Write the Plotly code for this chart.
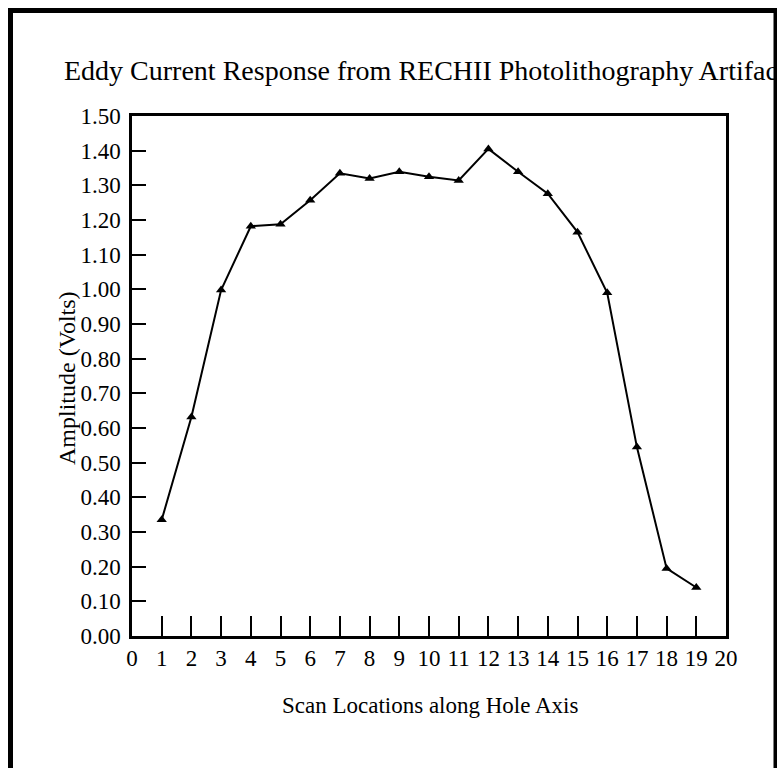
import plotly.graph_objects as go

# Data
scan_locations = list(range(1, 20))
amplitude_volts = [0.335, 0.632, 0.998, 1.182, 1.188, 1.257, 1.335, 1.320, 1.339,
                   1.325, 1.314, 1.405, 1.339, 1.276, 1.165, 0.990, 0.545, 0.195, 0.140]
x_tick_values = list(range(0, 21))
y_tick_values = [round(i * 0.1, 2) for i in range(0, 16)]

title_text = "Eddy Current Response from RECHII Photolithography Artifact"
x_title = "Scan Locations along Hole Axis"
y_title = "Amplitude (Volts)"

FONT = "Liberation Serif, Times New Roman, Times, serif"

W, H = 777, 768
L, R, T, B = 132, 51, 116, 132
PW, PH = W - L - R, H - T - B


def px(x):
    return (x - L) / PW


def py(y):
    return (H - B - y) / PH


fig = go.Figure()
fig.add_trace(go.Scatter(
    x=scan_locations, y=amplitude_volts, mode="lines+markers",
    line=dict(color="black", width=2),
    marker=dict(symbol="triangle-up", size=9, color="black"),
    showlegend=False, cliponaxis=False,
))

fig.update_layout(
    width=W, height=H,
    margin=dict(l=L, r=R, t=T, b=B, pad=0),
    paper_bgcolor="white", plot_bgcolor="white",
    font=dict(family=FONT, color="black"),
    xaxis=dict(range=[0, 20], tickvals=x_tick_values, ticks="inside", ticklen=20,
               tickwidth=2, tickcolor="black", showline=True, linewidth=2.5,
               linecolor="black", mirror=True, showgrid=False, zeroline=False,
               tickfont=dict(size=23, family=FONT, color="black")),
    yaxis=dict(range=[0, 1.5], tickvals=y_tick_values, tickformat=".2f",
               ticks="inside", ticklen=14, tickwidth=2, tickcolor="black",
               showline=True, linewidth=2.5, linecolor="black", mirror=True,
               showgrid=False, zeroline=False, ticklabelstandoff=4,
               tickfont=dict(size=23, family=FONT, color="black")),
    shapes=[dict(type="rect", xref="paper", yref="paper",
                 x0=px(10.5), x1=px(776), y0=py(790), y1=py(10.5),
                 line=dict(color="black", width=5), fillcolor="rgba(0,0,0,0)",
                 layer="above")],
    annotations=[
        dict(text=title_text, xref="paper", yref="paper", x=px(62), y=py(70),
             xanchor="left", yanchor="middle", showarrow=False,
             font=dict(size=28, family=FONT, color="black")),
        dict(text=x_title, xref="paper", yref="paper", x=px(430), y=py(705),
             xanchor="center", yanchor="middle", showarrow=False,
             font=dict(size=23, family=FONT, color="black")),
        dict(text=y_title, xref="paper", yref="paper", x=px(67), y=py(378),
             xanchor="center", yanchor="middle", showarrow=False, textangle=-90,
             font=dict(size=24, family=FONT, color="black")),
    ],
)

fig.write_html("out.html", config={"displayModeBar": False},
               post_script="document.body.style.margin='0';")
